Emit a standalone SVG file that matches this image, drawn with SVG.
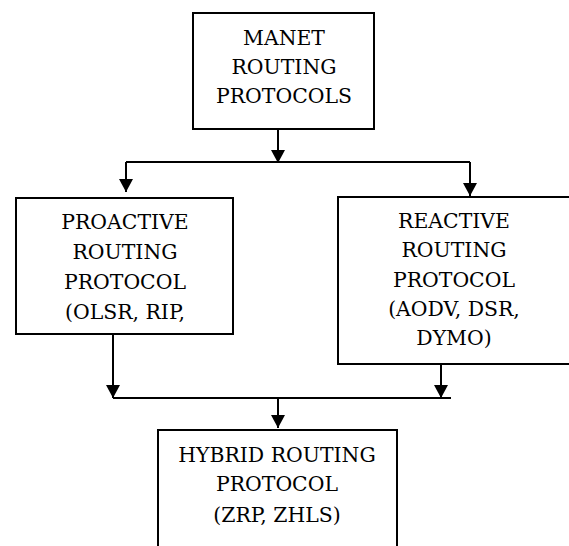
<svg xmlns="http://www.w3.org/2000/svg" width="569" height="546" viewBox="0 0 569 546">
<defs>
<marker id="arr" markerUnits="userSpaceOnUse" markerWidth="14" markerHeight="14" refX="13" refY="7" orient="auto">
<path d="M0,0 L13,7 L0,14 z" fill="#000"/>
</marker>
<style>
.box{fill:#fff;stroke:#000;stroke-width:2}
.t{font-family:'DejaVu Serif','Liberation Serif',serif;font-size:20.4px;fill:#000;text-anchor:middle}
.c{fill:none;stroke:#000;stroke-width:2}
</style>
</defs>
<rect width="569" height="546" fill="#fff"/>
<g id="manet">
<rect class="box" x="193" y="13" width="181" height="116"/>
<text class="t" x="284" y="45">MANET</text>
<text class="t" x="284" y="74">ROUTING</text>
<text class="t" x="284" y="103">PROTOCOLS</text>
</g>
<g id="proactive">
<rect class="box" x="16" y="198" width="217" height="136"/>
<text class="t" x="125" y="229">PROACTIVE</text>
<text class="t" x="125" y="259">ROUTING</text>
<text class="t" x="125" y="289">PROTOCOL</text>
<text class="t" x="125" y="319">(OLSR, RIP,</text>
</g>
<g id="reactive">
<rect class="box" x="338" y="197" width="240" height="167"/>
<text class="t" x="454" y="228">REACTIVE</text>
<text class="t" x="454" y="257">ROUTING</text>
<text class="t" x="454" y="287">PROTOCOL</text>
<text class="t" x="454" y="316">(AODV, DSR,</text>
<text class="t" x="454" y="345">DYMO)</text>
</g>
<g id="hybrid">
<path class="box" d="M158,556 L158,430 L397,430 L397,556"/>
<text class="t" x="277" y="462">HYBRID ROUTING</text>
<text class="t" x="277" y="491">PROTOCOL</text>
<text class="t" x="277" y="522">(ZRP, ZHLS)</text>
</g>
<g id="connectors">
<line class="c" x1="278" y1="129" x2="278" y2="163" marker-end="url(#arr)"/>
<line class="c" x1="126" y1="162" x2="470" y2="162"/>
<line class="c" x1="126" y1="162" x2="126" y2="192" marker-end="url(#arr)"/>
<line class="c" x1="470" y1="162" x2="470" y2="196" marker-end="url(#arr)"/>
<line class="c" x1="113" y1="334" x2="113" y2="398" marker-end="url(#arr)"/>
<line class="c" x1="441" y1="364" x2="441" y2="398" marker-end="url(#arr)"/>
<line class="c" x1="113" y1="398" x2="451" y2="398"/>
<line class="c" x1="278" y1="397" x2="278" y2="428" marker-end="url(#arr)"/>
</g>
</svg>
